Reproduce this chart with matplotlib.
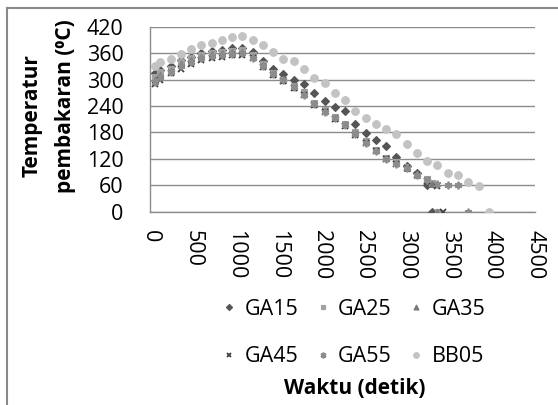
import matplotlib
matplotlib.use("Agg")
import matplotlib.pyplot as plt
from matplotlib.lines import Line2D

plt.rcParams['font.family'] = ['Open Sans', 'DejaVu Sans']

# ---- data (time in seconds, temperature in deg C) ----
t_common = [60, 120, 240, 360, 480, 600, 720, 840, 960, 1080, 1200, 1320, 1440,
            1560, 1680, 1800, 1920, 2040, 2160, 2280, 2400, 2520, 2640, 2760,
            2880, 3000, 3120, 3240]

ga15_t = t_common + [3300]
ga15_v = [315, 322, 330, 345, 352, 360, 365, 368, 372, 372, 362, 343, 325, 313,
          300, 290, 270, 252, 238, 228, 199, 178, 163, 149, 124, 104, 87, 60, 0]

ga25_t = t_common + [3300, 3370]
ga25_v = [305, 318, 325, 340, 348, 355, 360, 362, 365, 366, 355, 335, 315, 300,
          285, 272, 247, 230, 215, 200, 180, 160, 140, 122, 112, 102, 84, 75, 65, 0]

ga35_t = t_common + [3300, 3360]
ga35_v = [300, 310, 320, 335, 345, 352, 358, 360, 362, 363, 352, 332, 312, 300,
          283, 268, 245, 228, 212, 198, 178, 158, 140, 121, 110, 100, 85, 72, 62, 0]

ga45_t = t_common + [3350, 3430]
ga45_v = [290, 300, 315, 325, 335, 345, 350, 352, 355, 356, 348, 328, 310, 296,
          280, 265, 242, 226, 210, 195, 175, 155, 137, 120, 108, 99, 83, 70, 58, 0]

ga55_t = t_common + [3360, 3480, 3600, 3720]
ga55_v = [295, 305, 318, 330, 340, 348, 354, 356, 358, 360, 350, 330, 312, 298,
          282, 266, 244, 227, 212, 197, 176, 157, 138, 120, 108, 99, 84, 72, 62,
          60, 60, 0]

bb05_t = t_common + [3360, 3480, 3600, 3720, 3840, 3960]
bb05_v = [330, 339, 347, 359, 369, 378, 384, 389, 397, 399, 389, 378, 363, 347,
          341, 323, 303, 292, 269, 254, 229, 213, 198, 188, 176, 153, 133, 116,
          106, 88, 83, 67, 59, 0]

series_names = ['GA15', 'GA25', 'GA35', 'GA45', 'GA55', 'BB05']
y_ticks = [0, 60, 120, 180, 240, 300, 360, 420]
x_ticks = [0, 500, 1000, 1500, 2000, 2500, 3000, 3500, 4000, 4500]

FS = 15.5
FSB = 15

# ---- figure ----
W, H = 558, 405
fig = plt.figure(figsize=(W / 100, H / 100), dpi=100)

# outer chart border
fig.add_artist(Line2D([7 / W, 7 / W], [0, 1 - 8 / H], color='#8a8a8a', lw=1.5,
                      transform=fig.transFigure))
fig.add_artist(Line2D([7 / W, 1], [1 - 8 / H, 1 - 8 / H], color='#8a8a8a', lw=1.5,
                      transform=fig.transFigure))

ax = fig.add_axes([150 / W, (H - 211.7) / H, (535 - 150) / W, (211.7 - 26.7) / H])

styles = [
    dict(marker='D', color='#555555', ms=4.2),
    dict(marker='s', color='#a0a0a0', ms=4.5),
    dict(marker='^', color='#7a7a7a', ms=4.8),
    dict(marker='x', color='#404040', ms=4.5, mew=1.3),
    dict(marker=(6, 2, 0), color='#8c8c8c', ms=5.5, mew=1.3),
    dict(marker='o', color='#c3c3c3', ms=5.5),
]
data = [(ga15_t, ga15_v), (ga25_t, ga25_v), (ga35_t, ga35_v),
        (ga45_t, ga45_v), (ga55_t, ga55_v), (bb05_t, bb05_v)]
handles = []
for (tt, vv), st, name in zip(data, styles, series_names):
    h, = ax.plot(tt, vv, linestyle='none', marker=st['marker'], color=st['color'],
                 markersize=st['ms'], markeredgewidth=st.get('mew', 0.8),
                 label=name, zorder=3)
    handles.append(h)

ax.set_xlim(0, 4500)
ax.set_ylim(0, 420)
ax.set_yticks(y_ticks)
ax.set_xticks(x_ticks)
ax.set_yticklabels([str(v) for v in y_ticks], fontsize=FS)
ax.set_xticklabels([str(v) for v in x_ticks], fontsize=FS, rotation=-90)
ax.tick_params(axis='both', length=0)
ax.tick_params(axis='y', pad=19)
ax.tick_params(axis='x', pad=13)
for lab in ax.get_xticklabels():
    lab.set_verticalalignment('top')
    lab.set_horizontalalignment('center')

ax.yaxis.grid(True, color='#8c8c8c', lw=1.0)
ax.xaxis.grid(False)
ax.set_axisbelow(True)
for s in ['top', 'right']:
    ax.spines[s].set_visible(False)
for s in ['left', 'bottom']:
    ax.spines[s].set_color('#8c8c8c')
    ax.spines[s].set_linewidth(1.0)

# y label (two lines)
fig.text(32 / W, 1 - 116 / H, 'Temperatur', rotation=90, ha='center', va='center',
         fontsize=FSB, fontweight='bold')
fig.text(65 / W, 1 - 106 / H, 'pembakaran (⁰C)', rotation=90, ha='center',
         va='center', fontsize=FSB, fontweight='bold')

# legend, row-wise order
order = [0, 3, 1, 4, 2, 5]
fig.legend([handles[i] for i in order], [series_names[i] for i in order],
           ncol=3, loc='center', bbox_to_anchor=(354 / W, 1 - 333 / H),
           frameon=False, fontsize=FS, handlelength=0.6, handletextpad=0.4,
           columnspacing=0.85, labelspacing=1.25, markerscale=0.75,
           borderpad=0)

fig.text(355 / W, 1 - 388 / H, 'Waktu (detik)', ha='center', va='center',
         fontsize=FSB, fontweight='bold')

fig.savefig('out.png', dpi=100)
